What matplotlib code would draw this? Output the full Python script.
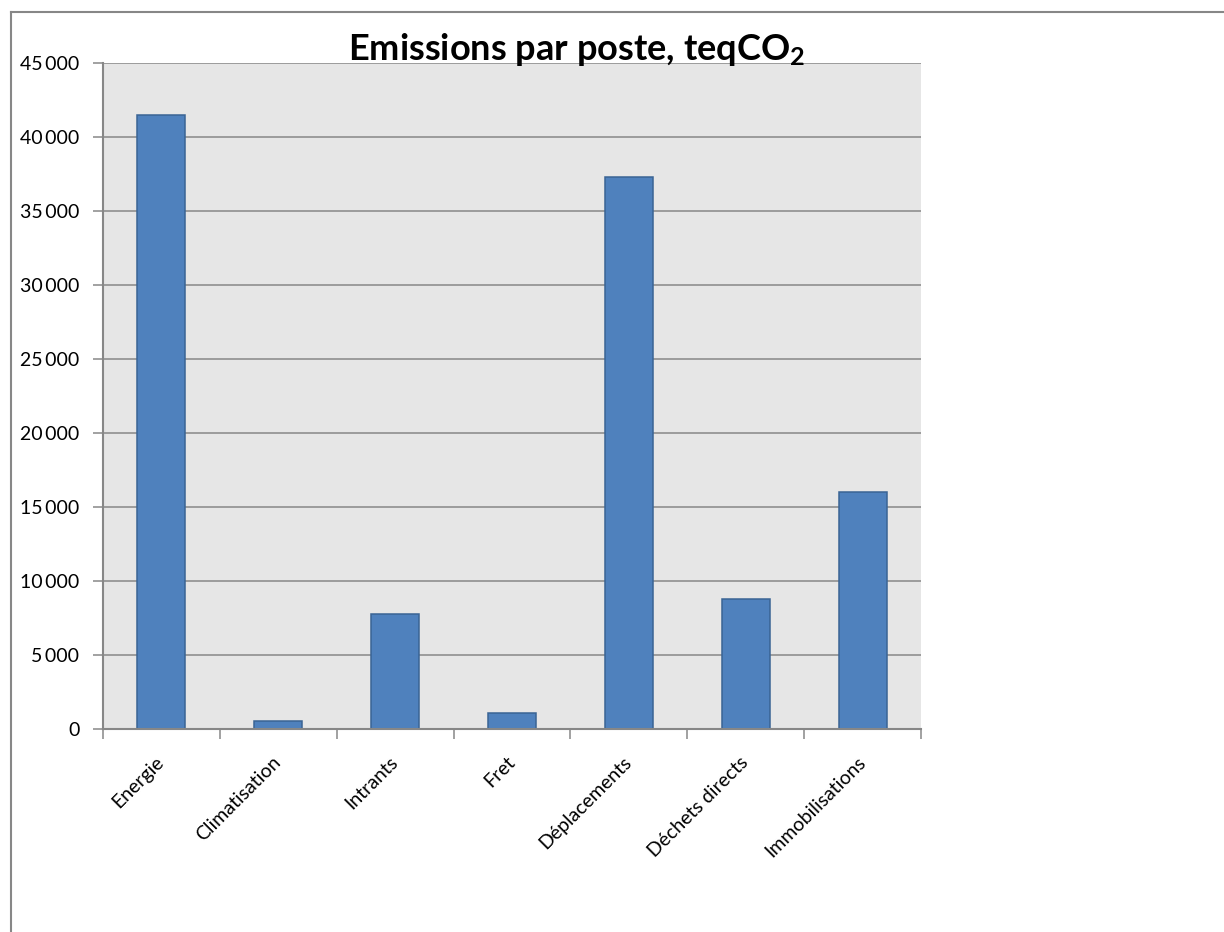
import matplotlib
matplotlib.use("Agg")
import matplotlib.pyplot as plt
from matplotlib.lines import Line2D
from matplotlib.ticker import FuncFormatter, MultipleLocator

# Emissions by source (teqCO2)
categories = ["Energie", "Climatisation", "Intrants", "Fret",
              "Déplacements", "Déchets directs", "Immobilisations"]
emissions = [41500, 550, 7800, 1100, 37300, 8800, 16000]
y_max = 45000
y_step = 5000

plt.rcParams["font.family"] = ["Lato", "DejaVu Sans"]
plt.rcParams["mathtext.fontset"] = "custom"
plt.rcParams["mathtext.rm"] = "Lato"
plt.rcParams["mathtext.bf"] = "Lato:bold"

W, H = 1224, 932
fig = plt.figure(figsize=(W / 100, H / 100), dpi=100)
fig.patch.set_facecolor("white")

ax = fig.add_axes([103 / W, 1 - 729 / H, (921 - 103) / W, (729 - 63) / H])
ax.set_facecolor("#e6e6e6")

grid_col = "#878787"
x = list(range(len(categories)))
ax.bar(x, emissions, width=0.41, color="#4f81bd", edgecolor="#3a6494",
       linewidth=1.1, zorder=3)

ax.set_xlim(-0.5, len(categories) - 0.5)
ax.set_ylim(0, y_max)
ax.yaxis.set_major_locator(MultipleLocator(y_step))
ax.yaxis.set_major_formatter(
    FuncFormatter(lambda v, _: f"{int(v):,}".replace(",", "\u2009")))
ax.grid(axis="y", color=grid_col, linewidth=1.1, zorder=1)
ax.set_axisbelow(True)

# category boundaries carry the ticks, labels sit at bar centres
ax.set_xticks([i - 0.5 for i in range(len(categories) + 1)])
ax.set_xticklabels([])
ax.tick_params(axis="x", length=7, width=1.1, color=grid_col, direction="out")
ax.tick_params(axis="y", length=7, width=1.1, color=grid_col, direction="out",
               labelsize=14, pad=10)
for lab in ax.get_yticklabels():
    lab.set_color("black")

for s in ["top", "right"]:
    ax.spines[s].set_visible(False)
for s in ["left", "bottom"]:
    ax.spines[s].set_color(grid_col)
    ax.spines[s].set_linewidth(1.5)
    ax.spines[s].set_zorder(4)

for i, name in enumerate(categories):
    ax.annotate(name, xy=(i, 0), xycoords=("data", "data"),
                xytext=(0, -22), textcoords="offset points",
                rotation=45, rotation_mode="anchor", ha="right", va="center",
                fontsize=14, color="black")

fig.text(577 / W, 1 - 60 / H, r"Emissions par poste, teqCO$\mathbf{_2}$",
         ha="center", va="baseline", fontsize=26, fontweight="bold")

# chart frame
fig.add_artist(Line2D([10.5 / W, 10.5 / W], [0, 1 - 11.5 / H],
                      transform=fig.transFigure, color=grid_col, lw=1.5))
fig.add_artist(Line2D([10.5 / W, 1], [1 - 11.5 / H, 1 - 11.5 / H],
                      transform=fig.transFigure, color=grid_col, lw=1.5))

fig.savefig("out.png", dpi=100)
